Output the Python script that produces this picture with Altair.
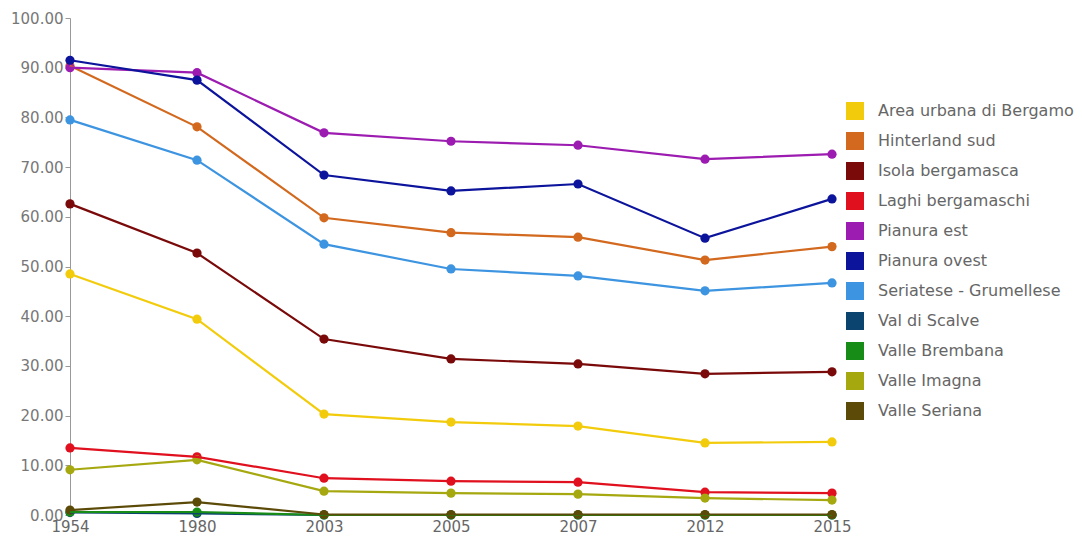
import altair as alt
import pandas as pd

years = ["1954", "1980", "2003", "2005", "2007", "2012", "2015"]

zones = [
    "Area urbana di Bergamo",
    "Hinterland sud",
    "Isola bergamasca",
    "Laghi bergamaschi",
    "Pianura est",
    "Pianura ovest",
    "Seriatese - Grumellese",
    "Val di Scalve",
    "Valle Brembana",
    "Valle Imagna",
    "Valle Seriana",
]

area_urbana = [48.5, 39.4, 20.3, 18.7, 17.9, 14.5, 14.7]
hinterland_sud = [90.4, 78.1, 59.8, 56.8, 55.9, 51.3, 54.0]
isola_bergamasca = [62.6, 52.7, 35.4, 31.4, 30.4, 28.4, 28.8]
laghi_bergamaschi = [13.5, 11.7, 7.4, 6.8, 6.6, 4.6, 4.4]
pianura_est = [90.0, 89.0, 76.9, 75.2, 74.4, 71.6, 72.6]
pianura_ovest = [91.5, 87.5, 68.4, 65.2, 66.6, 55.7, 63.6]
seriatese = [79.5, 71.4, 54.5, 49.5, 48.1, 45.1, 46.7]
val_di_scalve = [0.5, 0.3, 0.0, 0.0, 0.0, 0.0, 0.0]
valle_brembana = [0.6, 0.6, 0.0, 0.0, 0.0, 0.0, 0.0]
valle_imagna = [9.1, 11.1, 4.8, 4.4, 4.2, 3.4, 3.0]
valle_seriana = [1.0, 2.6, 0.1, 0.1, 0.1, 0.1, 0.1]

series = [
    area_urbana, hinterland_sud, isola_bergamasca, laghi_bergamaschi,
    pianura_est, pianura_ovest, seriatese, val_di_scalve,
    valle_brembana, valle_imagna, valle_seriana,
]

colors = [
    "#f2cc0c", "#d2691e", "#7a0a0a", "#e0101e", "#9c1bb0", "#0c149c",
    "#3d94e0", "#0c4470", "#178c17", "#a6a810", "#5c4a08",
]

rows = []
for zone, values in zip(zones, series):
    for year, v in zip(years, values):
        rows.append({"zona": zone, "anno": year, "valore": v})
df = pd.DataFrame(rows)

FONT = "DejaVu Sans"

x_enc = alt.X(
    "anno:O",
    sort=years,
    scale=alt.Scale(type="point", padding=0),
    axis=alt.Axis(
        title=None, labelAngle=0, domain=False, ticks=False,
        labelPadding=4, labelColor="#666666", labelFontSize=15, labelFont=FONT,
    ),
)
y_enc = alt.Y(
    "valore:Q",
    scale=alt.Scale(domain=[0, 100], nice=False, zero=True),
    axis=alt.Axis(
        title=None, values=list(range(0, 101, 10)), format=".2f", grid=False,
        domainColor="#999999", tickColor="#999999", tickSize=5,
        labelPadding=2, labelColor="#777777", labelFontSize=15, labelFont=FONT,
    ),
)
color_enc = alt.Color(
    "zona:N",
    scale=alt.Scale(domain=zones, range=colors),
    legend=alt.Legend(
        title=None, orient="none", legendX=776, legendY=84,
        symbolType="square", symbolSize=324, symbolStrokeWidth=0,
        symbolOpacity=1, rowPadding=12, labelOffset=14,
        labelFontSize=16, labelFont=FONT, labelColor="#666666", labelLimit=400,
    ),
)

lines = alt.Chart(df).mark_line(strokeWidth=2.2).encode(
    x=x_enc, y=y_enc, color=color_enc, detail="zona:N"
)
points = alt.Chart(df).mark_point(filled=True, size=85, opacity=1).encode(
    x=x_enc, y=y_enc, color=color_enc
)

chart = (
    alt.layer(points, lines)
    .properties(
        width=762,
        height=497,
        background="white",
        autosize=alt.AutoSizeParams(type="none"),
        padding={"left": 70, "top": 18, "right": 250, "bottom": 22},
    )
    .configure_view(strokeWidth=0, stroke="transparent")
)

chart.save("out.html", embed_options={"renderer": "svg", "actions": False})
